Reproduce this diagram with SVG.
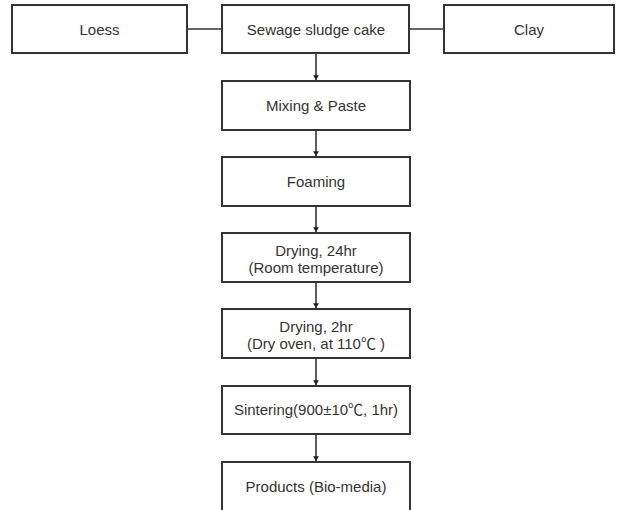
<svg xmlns="http://www.w3.org/2000/svg" width="618" height="510" viewBox="0 0 618 510">
<defs>
<style>
.box{fill:#fff;stroke:#333;stroke-width:2}
.t{font-family:"Liberation Sans",Arial,"Noto Sans CJK KR",sans-serif;font-size:15px;fill:#333;text-anchor:middle}
.c{stroke:#333;stroke-width:1.6;fill:none}
</style>
<marker id="ah" viewBox="0 0 8 10" refX="8" refY="5" markerWidth="5" markerHeight="6" orient="auto" markerUnits="userSpaceOnUse">
<path d="M0,0 L8,5 L0,10 z" fill="#222"/>
</marker>
</defs>
<rect width="618" height="510" fill="#fff"/>
<g id="connectors">
<line class="c" x1="187" y1="29" x2="222" y2="29"/>
<line class="c" x1="409" y1="29" x2="444" y2="29"/>
<line class="c" x1="316" y1="53" x2="316" y2="80" marker-end="url(#ah)"/>
<line class="c" x1="316" y1="130" x2="316" y2="156" marker-end="url(#ah)"/>
<line class="c" x1="316" y1="206" x2="316" y2="232" marker-end="url(#ah)"/>
<line class="c" x1="316" y1="282" x2="316" y2="308" marker-end="url(#ah)"/>
<line class="c" x1="316" y1="358" x2="316" y2="385" marker-end="url(#ah)"/>
<line class="c" x1="316" y1="434" x2="316" y2="461" marker-end="url(#ah)"/>
</g>
<g id="loess"><rect class="box" x="12" y="5" width="175" height="48"/><text class="t" x="99.5" y="35">Loess</text></g>
<g id="sludge"><rect class="box" x="222" y="5" width="187" height="48"/><text class="t" x="316" y="35">Sewage sludge cake</text></g>
<g id="clay"><rect class="box" x="444" y="5" width="170" height="48"/><text class="t" x="529" y="35">Clay</text></g>
<g id="mixing"><rect class="box" x="222" y="81" width="188" height="49"/><text class="t" x="316" y="111">Mixing &amp; Paste</text></g>
<g id="foaming"><rect class="box" x="222" y="157" width="188" height="49"/><text class="t" x="316" y="187">Foaming</text></g>
<g id="drying24"><rect class="box" x="222" y="233" width="188" height="49"/><text class="t" x="316" y="256">Drying, 24hr</text><text class="t" x="316" y="273">(Room temperature)</text></g>
<g id="drying2"><rect class="box" x="222" y="309" width="188" height="49"/><text class="t" x="316" y="332">Drying, 2hr</text><text class="t" x="316" y="349">(Dry oven, at 110℃ )</text></g>
<g id="sintering"><rect class="box" x="222" y="386" width="188" height="48"/><text class="t" x="316" y="415">Sintering(900±10℃, 1hr)</text></g>
<g id="products"><rect class="box" x="222" y="462" width="188" height="52"/><text class="t" x="316" y="492">Products (Bio-media)</text></g>
</svg>
